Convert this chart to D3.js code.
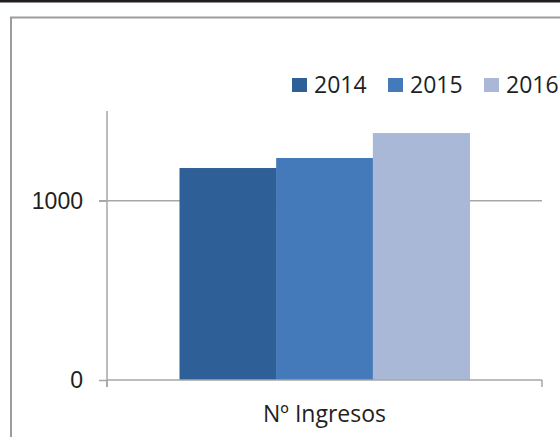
<!DOCTYPE html>
<html>
<head>
<meta charset="utf-8">
<script src="https://cdn.jsdelivr.net/npm/d3@7"></script>
<style>
  body { margin: 0; background: #fff; }
  svg { display: block; font-family: "Open Sans", sans-serif; }
</style>
</head>
<body>
<div id="chart"></div>
<script>
// data
const categories = ["Nº Ingresos"];
const years = ["2014", "2015", "2016"];
const values2014 = [1182];
const values2015 = [1238];
const values2016 = [1377];
const yTicks = [0, 1000];
const colors = ["#2e5f96", "#447aba", "#a9b8d7"];

const series = [values2014, values2015, values2016];

const width = 560, height = 437;
const plot = {left: 107, right: 542, top: 111, bottom: 380};
const textColor = "#231f20";
const lineColor = "#a6a6a6";

const svg = d3.select("#chart").append("svg")
    .attr("width", width)
    .attr("height", height);

// black rule on top and the grey frame
svg.append("rect")
    .attr("x", 0).attr("y", 0)
    .attr("width", width).attr("height", 2.5)
    .attr("fill", textColor);

svg.append("path")
    .attr("d", `M11,${height + 5}V17.5H${width + 5}`)
    .attr("fill", "none")
    .attr("stroke", "#9c9c9c")
    .attr("stroke-width", 2);

const x0 = d3.scaleBand()
    .domain(categories)
    .range([plot.left, plot.right])
    .padding(0);

const x1 = d3.scaleBand()
    .domain(years)
    .range([0, x0.bandwidth()])
    .paddingInner(0)
    .paddingOuter(0.75);

const y = d3.scaleLinear()
    .domain([0, 1500])
    .range([plot.bottom, plot.top]);

// gridline at 1000
svg.append("g")
    .selectAll("line")
    .data(yTicks.filter(d => d > 0))
    .enter()
    .append("line")
      .attr("x1", plot.left - 8)
      .attr("x2", plot.right)
      .attr("y1", d => y(d))
      .attr("y2", d => y(d))
      .attr("stroke", lineColor)
      .attr("stroke-width", 1.5);

// bars
const groups = svg.append("g")
    .selectAll("g")
    .data(categories)
    .enter()
    .append("g")
      .attr("transform", d => `translate(${x0(d)},0)`);

groups.selectAll("rect")
    .data((d, ci) => years.map((yr, i) => ({year: yr, value: series[i][ci], color: colors[i]})))
    .enter()
    .append("rect")
      .attr("x", d => x1(d.year))
      .attr("width", x1.bandwidth() + 0.5)
      .attr("y", d => y(d.value))
      .attr("height", d => y(0) - y(d.value))
      .attr("fill", d => d.color);

// y axis
const yAxis = svg.append("g")
    .attr("transform", `translate(${plot.left},0)`)
    .call(d3.axisLeft(y).tickValues(yTicks).tickFormat(d3.format("d"))
        .tickSize(8).tickPadding(16).tickSizeOuter(0));

yAxis.select(".domain").remove();
yAxis.selectAll(".tick line")
    .attr("stroke", lineColor)
    .attr("stroke-width", 1.5);
yAxis.selectAll(".tick text")
    .attr("fill", textColor)
    .style("font-size", "23px");

svg.append("line")
    .attr("x1", plot.left).attr("x2", plot.left)
    .attr("y1", plot.top).attr("y2", plot.bottom + 7)
    .attr("stroke", lineColor)
    .attr("stroke-width", 1.5);

// x axis
svg.append("line")
    .attr("x1", plot.left).attr("x2", plot.right)
    .attr("y1", plot.bottom).attr("y2", plot.bottom)
    .attr("stroke", lineColor)
    .attr("stroke-width", 1.5);

svg.append("g")
    .selectAll("line")
    .data([plot.left, plot.right])
    .enter()
    .append("line")
      .attr("x1", d => d).attr("x2", d => d)
      .attr("y1", plot.bottom).attr("y2", plot.bottom + 7)
      .attr("stroke", lineColor)
      .attr("stroke-width", 1.5);

svg.append("g")
    .selectAll("text")
    .data(categories)
    .enter()
    .append("text")
      .attr("x", d => x0(d) + x0.bandwidth() / 2)
      .attr("y", 422)
      .attr("text-anchor", "middle")
      .attr("fill", textColor)
      .style("font-size", "23px")
      .text(d => d);

// legend
const legend = svg.append("g")
    .attr("transform", "translate(292,78)");

const item = legend.selectAll("g")
    .data(years)
    .enter()
    .append("g")
      .attr("transform", (d, i) => `translate(${i * 96},0)`);

item.append("rect")
    .attr("width", 15)
    .attr("height", 14)
    .attr("fill", (d, i) => colors[i]);

item.append("text")
    .attr("x", 22)
    .attr("y", 14.5)
    .attr("fill", textColor)
    .style("font-size", "23px")
    .text(d => d);
</script>
</body>
</html>
